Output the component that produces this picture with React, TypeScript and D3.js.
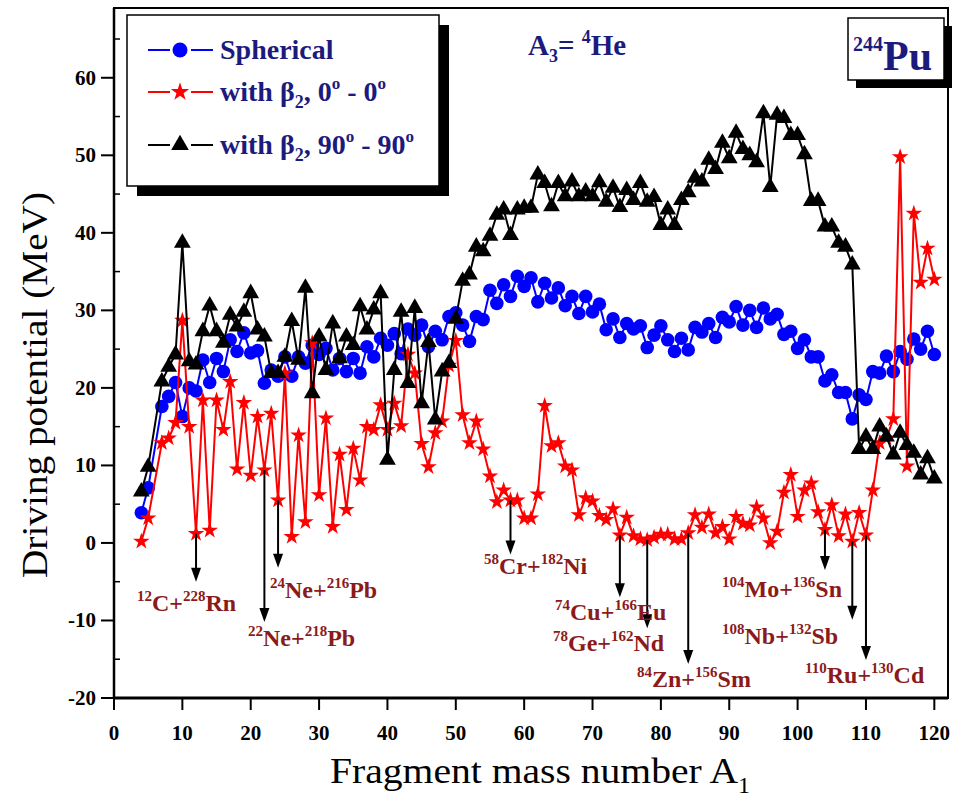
import React from 'react';
import * as d3 from 'd3';

// ---------- data ----------
const massNumbers = [4, 5, 7, 8, 9, 10, 11, 12, 13, 14, 15, 16, 17, 18, 19, 20, 21, 22, 23, 24, 25, 26, 27, 28, 29, 30,
  31, 32, 33, 34, 35, 36, 37, 38, 39, 40, 41, 42, 43, 44, 45, 46, 47, 48, 49, 50, 51, 52, 53, 54, 55, 56, 57, 58, 59, 60,
  61, 62, 63, 64, 65, 66, 67, 68, 69, 70, 71, 72, 73, 74, 75, 76, 77, 78, 79, 80, 81, 82, 83, 84, 85, 86, 87, 88, 89, 90,
  91, 92, 93, 94, 95, 96, 97, 98, 99, 100, 101, 102, 103, 104, 105, 106, 107, 108, 109, 110, 111, 112, 113, 114, 115, 116,
  117, 118, 119, 120];

const spherical = [3.9, 7.1, 17.6, 18.9, 20.7, 16.3, 20.0, 19.6, 23.6, 20.7, 23.8, 22.1, 26.2, 24.7, 27.1, 24.5, 24.8, 20.6,
  22.3, 21.5, 24.0, 21.5, 24.0, 23.2, 25.5, 24.3, 25.1, 22.3, 23.8, 22.1, 23.8, 21.9, 25.3, 24.0, 26.4, 25.5, 27.0, 24.4,
  27.6, 26.8, 28.1, 25.3, 27.3, 26.2, 29.2, 29.7, 28.1, 26.0, 29.2, 28.8, 32.6, 30.9, 33.3, 31.8, 34.4, 33.1, 34.2, 31.1,
  33.5, 31.6, 32.9, 30.6, 31.8, 29.6, 31.8, 29.8, 30.8, 27.5, 28.9, 26.5, 28.3, 27.6, 28.0, 25.2, 26.8, 28.0, 26.2, 24.7,
  26.4, 24.9, 27.8, 27.2, 28.3, 26.5, 29.1, 28.5, 30.5, 28.1, 30.0, 27.8, 30.3, 28.9, 29.5, 26.9, 27.3, 25.1, 26.2, 24.0,
  24.0, 20.9, 21.7, 19.4, 19.4, 16.0, 19.1, 18.5, 22.1, 21.9, 24.1, 22.1, 24.7, 23.7, 26.3, 25.0, 27.3, 24.3];

const beta00 = [0.2, 3.2, 12.9, 13.5, 15.5, 28.7, 15.0, 1.2, 18.4, 1.6, 18.4, 14.6, 20.8, 9.5, 18.1, 8.7, 16.3, 9.4, 16.7,
  5.5, 21.9, 0.8, 13.9, 2.7, 25.8, 6.2, 16.1, 2.1, 11.4, 4.3, 12.2, 8.1, 15.0, 14.6, 17.8, 14.6, 18.0, 15.1, 24.3, 21.9,
  12.8, 9.8, 14.2, 15.7, 22.9, 26.1, 16.5, 12.9, 15.7, 12.1, 8.6, 5.3, 6.8, 5.5, 5.5, 3.2, 3.2, 6.3, 17.7, 12.5, 12.9, 9.9,
  9.4, 3.6, 5.8, 5.4, 3.5, 3.0, 4.4, 1.0, 3.3, 0.9, 0.5, 0.4, 0.7, 1.1, 1.1, 0.5, 0.5, 1.3, 3.6, 2.0, 3.7, 1.3, 2.1, 0.5,
  3.4, 2.5, 2.3, 4.6, 3.2, 0.0, 1.5, 6.5, 8.8, 3.4, 6.8, 7.7, 4.0, 1.7, 4.9, 0.9, 3.7, 0.2, 3.9, 1.0, 6.8, 12.9, 13.5,
  16.0, 49.8, 9.9, 42.5, 33.6, 38.0, 34.0];

const beta9090 = [6.6, 9.8, 20.8, 22.7, 24.3, 38.7, 23.4, 23.0, 27.3, 30.6, 27.3, 25.8, 29.4, 27.9, 29.8, 32.2, 27.5, 26.6,
  21.9, 21.9, 24.0, 28.6, 23.6, 32.9, 19.3, 26.6, 22.3, 28.3, 23.8, 26.6, 25.5, 30.5, 27.5, 30.1, 32.2, 10.7, 22.3, 29.8,
  20.6, 30.3, 18.0, 25.9, 15.9, 22.1, 23.2, 28.9, 33.8, 34.6, 38.2, 37.6, 39.6, 42.3, 43.0, 39.7, 43.0, 43.2, 43.2, 47.5,
  46.4, 43.4, 46.4, 44.7, 46.6, 44.7, 45.3, 44.7, 46.5, 44.0, 45.8, 43.3, 45.5, 44.2, 46.4, 44.0, 44.6, 41.0, 43.0, 41.0,
  44.2, 45.2, 47.1, 46.6, 49.4, 48.2, 51.6, 49.6, 52.9, 50.8, 50.0, 49.1, 55.4, 45.9, 55.2, 54.8, 52.6, 52.6, 50.1, 44.1,
  44.1, 40.8, 40.8, 38.7, 38.2, 35.9, 12.1, 13.7, 12.1, 15.0, 13.7, 11.4, 14.2, 12.6, 11.6, 8.8, 10.9, 8.3];

const xTicks = [0, 10, 20, 30, 40, 50, 60, 70, 80, 90, 100, 110, 120];
const yTicks = [-20, -10, 0, 10, 20, 30, 40, 50, 60];
const yMinorTicks = [-15, -5, 5, 15, 25, 35, 45, 55, 65];

// decay channels marked by arrows
const arrowMass = [12, 22, 24, 58, 74, 78, 84, 104, 108, 110];
const arrowTip = [-5.0, -10.2, -3.2, -1.5, -7.0, -11.0, -15.6, -3.5, -9.9, -15.1];
const channelA1 = ['12', '22', '24', '58', '74', '78', '84', '104', '108', '110'];
const channelEl1 = ['C', 'Ne', 'Ne', 'Cr', 'Cu', 'Ge', 'Zn', 'Mo', 'Nb', 'Ru'];
const channelA2 = ['228', '218', '216', '182', '166', '162', '156', '136', '132', '130'];
const channelEl2 = ['Rn', 'Pb', 'Pb', 'Ni', 'Eu', 'Nd', 'Sm', 'Sn', 'Sb', 'Cd'];

// ---------- layout ----------
const W = 964;
const H = 802;
const PLOT = { left: 114, right: 948, top: 8, bottom: 698 };
const labelPos: [number, number][] = [
  [137, 611], [248, 646], [270, 598], [484, 574], [555, 620],
  [553, 651], [637, 687], [722, 597], [722, 644], [805, 683],
];
const SERIF = "'Liberation Serif', 'Times New Roman', Times, serif";
const NAVY = '#1b1b7e';
const DARKRED = '#8b1a1a';

const x = d3.scaleLinear().domain([0, 122]).range([PLOT.left, PLOT.right]);
const y = d3.scaleLinear().domain([-20, 69]).range([PLOT.bottom, PLOT.top]);

const starPath = d3.symbol().type(d3.symbolStar).size(85)() as string;
const triPath = d3.symbol().type(d3.symbolTriangle).size(122)() as string;
const legendStar = d3.symbol().type(d3.symbolStar).size(105)() as string;
const legendTri = d3.symbol().type(d3.symbolTriangle).size(135)() as string;

function series(vals: number[]) {
  return massNumbers.map((a, i) => [a, vals[i]] as [number, number]);
}

const lineGen = d3
  .line<[number, number]>()
  .x((d) => x(d[0]))
  .y((d) => y(d[1]));

const ChannelLabel = ({ i }: { i: number }) => {
  const [lx, ly] = labelPos[i];
  return (
    <text x={lx} y={ly} fontFamily={SERIF} fontWeight="bold" fill={DARKRED} fontSize={24}>
      <tspan fontSize={15} dy={-10}>{channelA1[i]}</tspan>
      <tspan fontSize={24} dy={10}>{channelEl1[i]}+</tspan>
      <tspan fontSize={15} dy={-10}>{channelA2[i]}</tspan>
      <tspan fontSize={24} dy={10}>{channelEl2[i]}</tspan>
    </text>
  );
};

export default function App() {
  const blue = series(spherical);
  const red = series(beta00);
  const black = series(beta9090);

  return (
    <svg
      width={W}
      height={H}
      viewBox={`0 0 ${W} ${H}`}
      style={{ position: 'absolute', left: 0, top: 0, background: '#fff' }}
    >
      <rect x={0} y={0} width={W} height={H} fill="#fff" />

      {/* series: spherical */}
      <path d={lineGen(blue) as string} fill="none" stroke="#0000ff" strokeWidth={2} />
      {blue.map((d, i) => (
        <circle key={'b' + i} cx={x(d[0])} cy={y(d[1])} r={6.8} fill="#0000ff" />
      ))}

      {/* series: beta 0-0 */}
      <path d={lineGen(red) as string} fill="none" stroke="#ff0000" strokeWidth={2} />
      {red.map((d, i) => (
        <path key={'r' + i} d={starPath} transform={`translate(${x(d[0])},${y(d[1])})`} fill="#ff0000" />
      ))}

      {/* series: beta 90-90 */}
      <path d={lineGen(black) as string} fill="none" stroke="#000" strokeWidth={2} />
      {black.map((d, i) => (
        <path key={'k' + i} d={triPath} transform={`translate(${x(d[0])},${y(d[1])})`} fill="#000" />
      ))}

      {/* arrows */}
      {arrowMass.map((a, i) => {
        const idx = massNumbers.indexOf(a);
        const ax = x(a);
        const y0 = y(beta00[idx]);
        const y1 = y(arrowTip[i]);
        return (
          <g key={'a' + i}>
            <line x1={ax} x2={ax} y1={y0} y2={y1 - 12} stroke="#000" strokeWidth={2} />
            <path d={`M${ax - 5},${y1 - 14} L${ax + 5},${y1 - 14} L${ax},${y1} Z`} fill="#000" />
          </g>
        );
      })}
      {arrowMass.map((_, i) => (
        <ChannelLabel key={'l' + i} i={i} />
      ))}

      {/* frame */}
      <rect
        x={PLOT.left}
        y={PLOT.top}
        width={PLOT.right - PLOT.left}
        height={PLOT.bottom - PLOT.top}
        fill="none"
        stroke="#000"
        strokeWidth={2}
      />
      <line x1={PLOT.left - 1} x2={PLOT.right} y1={PLOT.bottom} y2={PLOT.bottom} stroke="#000" strokeWidth={3} />
      <line x1={PLOT.left} x2={PLOT.left} y1={PLOT.top} y2={PLOT.bottom + 1} stroke="#000" strokeWidth={2.5} />

      {/* x ticks */}
      {xTicks.map((t) => (
        <g key={'xt' + t}>
          <line x1={x(t)} x2={x(t)} y1={PLOT.bottom} y2={PLOT.bottom + 12} stroke="#000" strokeWidth={2} />
          <text
            x={x(t)}
            y={PLOT.bottom + 42}
            textAnchor="middle"
            fontFamily={SERIF}
            fontWeight="bold"
            fontSize={21}
            fill="#000"
          >
            {t}
          </text>
        </g>
      ))}

      {/* y ticks */}
      {yTicks.map((t) => (
        <g key={'yt' + t}>
          <line x1={PLOT.left - 13} x2={PLOT.left} y1={y(t)} y2={y(t)} stroke="#000" strokeWidth={2} />
          <text
            x={PLOT.left - 18}
            y={y(t) + 7}
            textAnchor="end"
            fontFamily={SERIF}
            fontWeight="bold"
            fontSize={21}
            fill="#000"
          >
            {t}
          </text>
        </g>
      ))}
      {yMinorTicks.map((t) => (
        <line key={'ym' + t} x1={PLOT.left} x2={PLOT.left + 6} y1={y(t)} y2={y(t)} stroke="#000" strokeWidth={1.5} />
      ))}

      {/* axis titles */}
      <text
        transform="translate(47,385) rotate(-90)"
        textAnchor="middle"
        fontFamily={SERIF}
        fontSize={36}
        fill="#000"
        textLength={386}
        lengthAdjust="spacingAndGlyphs"
      >
        Driving potential (MeV)
      </text>
      <text x={330} y={783} fontFamily={SERIF} fontSize={36} fill="#000">
        <tspan textLength={408} lengthAdjust="spacingAndGlyphs">Fragment mass number A</tspan>
        <tspan fontSize={24} dy={10}>1</tspan>
      </text>

      {/* legend */}
      <rect x={137} y={25} width={312} height={171} fill="#000" />
      <rect x={127} y={15} width={312} height={171} fill="#fff" stroke="#000" strokeWidth={1.5} />
      {/* row 1 */}
      <line x1={148} x2={170} y1={50} y2={50} stroke="#0000ff" strokeWidth={2} />
      <line x1={191} x2={213} y1={50} y2={50} stroke="#0000ff" strokeWidth={2} />
      <circle cx={180} cy={50} r={7.5} fill="#0000ff" />
      <text x={220} y={59} fontFamily={SERIF} fontWeight="bold" fontSize={28} fill={NAVY}>
        Spherical
      </text>
      {/* row 2 */}
      <line x1={148} x2={170} y1={92} y2={92} stroke="#ff0000" strokeWidth={2} />
      <line x1={191} x2={213} y1={92} y2={92} stroke="#ff0000" strokeWidth={2} />
      <path d={legendStar} transform="translate(180,92)" fill="#ff0000" />
      <text x={220} y={101} fontFamily={SERIF} fontWeight="bold" fontSize={28} fill={NAVY}>
        <tspan>with β</tspan>
        <tspan fontSize={18} dy={7}>2</tspan>
        <tspan dy={-7}>, 0</tspan>
        <tspan fontSize={17} dy={-12}>o</tspan>
        <tspan dy={12}> - 0</tspan>
        <tspan fontSize={17} dy={-12}>o</tspan>
      </text>
      {/* row 3 */}
      <line x1={148} x2={170} y1={145} y2={145} stroke="#000" strokeWidth={2} />
      <line x1={191} x2={213} y1={145} y2={145} stroke="#000" strokeWidth={2} />
      <path d={legendTri} transform="translate(180,145)" fill="#000" />
      <text x={220} y={154} fontFamily={SERIF} fontWeight="bold" fontSize={28} fill={NAVY}>
        <tspan>with β</tspan>
        <tspan fontSize={18} dy={7}>2</tspan>
        <tspan dy={-7}>, 90</tspan>
        <tspan fontSize={17} dy={-12}>o</tspan>
        <tspan dy={12}> - 90</tspan>
        <tspan fontSize={17} dy={-12}>o</tspan>
      </text>

      {/* A3 = 4He */}
      <text x={528} y={55} fontFamily={SERIF} fontWeight="bold" fontSize={29} fill={NAVY}>
        <tspan>A</tspan>
        <tspan fontSize={18} dy={7}>3</tspan>
        <tspan dy={-7}>= </tspan>
        <tspan fontSize={18} dy={-12}>4</tspan>
        <tspan dy={12}>He</tspan>
      </text>

      {/* 244Pu box */}
      <rect x={856} y={26} width={96} height={62} fill="#000" />
      <rect x={848} y={18} width={96} height={62} fill="#fff" stroke="#000" strokeWidth={1.5} />
      <text x={853} y={70} fontFamily={SERIF} fontWeight="bold" fontSize={42} fill={NAVY}>
        <tspan fontSize={20} dy={-19}>244</tspan>
        <tspan dy={19}>Pu</tspan>
      </text>
    </svg>
  );
}
